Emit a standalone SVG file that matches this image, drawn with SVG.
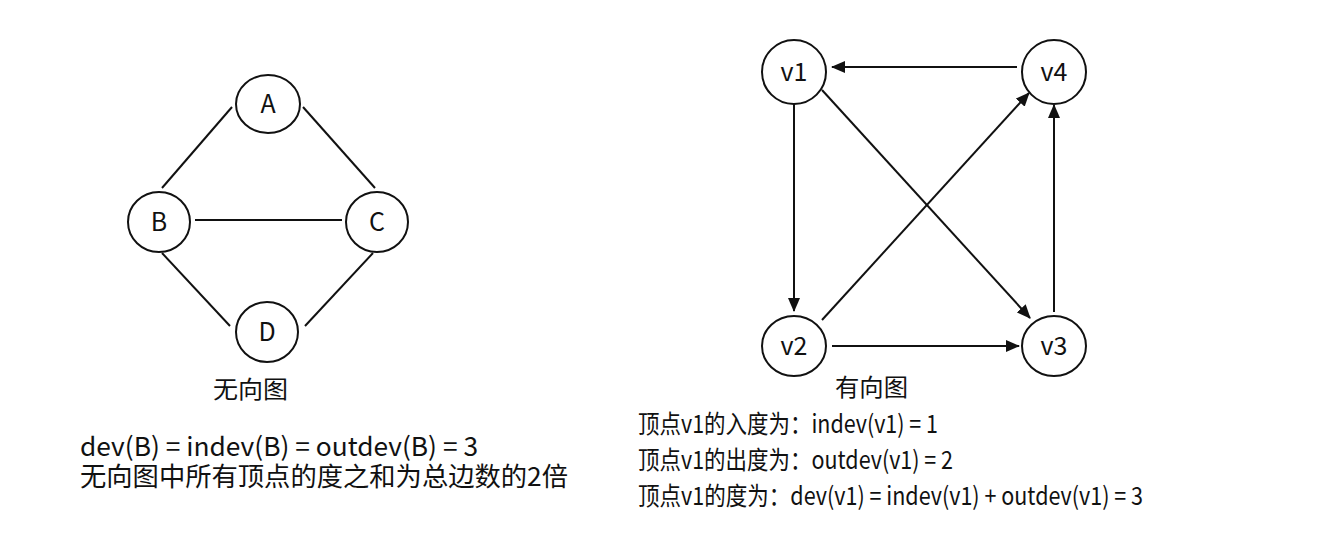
<svg xmlns="http://www.w3.org/2000/svg" width="1335" height="539" viewBox="0 0 1335 539">
<style>
.n{fill:#fff;stroke:#111;stroke-width:2}
.lbl{font-family:"Noto Sans CJK SC","Noto Sans",sans-serif;font-size:25px;fill:#111;text-anchor:middle}
.e{stroke:#111;stroke-width:2;fill:none}
.a{marker-end:url(#ah)}
.t{font-family:"Noto Sans CJK SC","Noto Sans",sans-serif;fill:#111}
</style>
<defs>
<marker id="ah" viewBox="0 0 14 12" refX="13" refY="6" markerWidth="14" markerHeight="12" markerUnits="userSpaceOnUse" orient="auto">
<path d="M0,0 L14,6 L0,12 Z" fill="#111"/>
</marker>
</defs>
<rect width="1335" height="539" fill="#fff"/>
<g id="connectors">
<line class="e" x1="232" y1="107" x2="162" y2="188"/>
<line class="e" x1="303" y1="107" x2="375" y2="188"/>
<line class="e" x1="195" y1="220" x2="342" y2="220"/>
<line class="e" x1="162" y1="253" x2="230" y2="326"/>
<line class="e" x1="373" y1="253" x2="305" y2="326"/>
<line class="e a" x1="1017" y1="67" x2="832" y2="67"/>
<line class="e a" x1="794" y1="100" x2="794" y2="311"/>
<line class="e a" x1="822" y1="90" x2="1030" y2="318"/>
<line class="e a" x1="822" y1="320" x2="1029" y2="93"/>
<line class="e a" x1="1054" y1="312" x2="1054" y2="105"/>
<line class="e a" x1="832" y1="346" x2="1019" y2="346"/>
</g>
<g id="node-A"><ellipse class="n" cx="268" cy="104" rx="32" ry="29"/><text class="lbl" x="268" y="113">A</text></g>
<g id="node-B"><ellipse class="n" cx="159" cy="222" rx="31" ry="30"/><text class="lbl" x="159" y="231">B</text></g>
<g id="node-C"><ellipse class="n" cx="377" cy="222" rx="31" ry="30"/><text class="lbl" x="377" y="231">C</text></g>
<g id="node-D"><ellipse class="n" cx="267" cy="332" rx="31" ry="30"/><text class="lbl" x="267" y="341">D</text></g>
<g id="node-v1"><ellipse class="n" cx="794" cy="72" rx="32" ry="32"/><text class="lbl" x="794" y="81">v1</text></g>
<g id="node-v4"><ellipse class="n" cx="1054" cy="72" rx="32" ry="32"/><text class="lbl" x="1054" y="81">v4</text></g>
<g id="node-v2"><ellipse class="n" cx="794" cy="346" rx="32" ry="30"/><text class="lbl" x="794" y="355">v2</text></g>
<g id="node-v3"><ellipse class="n" cx="1054" cy="346" rx="32" ry="30"/><text class="lbl" x="1054" y="355">v3</text></g>
<g id="captions">
<text class="t" x="213" y="398" font-size="24" textLength="75" lengthAdjust="spacingAndGlyphs">无向图</text>
<text class="t" x="80" y="456" font-size="26" textLength="398" lengthAdjust="spacingAndGlyphs">dev(B) = indev(B) = outdev(B) = 3</text>
<text class="t" x="80" y="486" font-size="26" textLength="488" lengthAdjust="spacingAndGlyphs">无向图中所有顶点的度之和为总边数的2倍</text>
<text class="t" x="835" y="396" font-size="24" textLength="73" lengthAdjust="spacingAndGlyphs">有向图</text>
<text class="t" x="638" y="433" font-size="25" textLength="300" lengthAdjust="spacingAndGlyphs">顶点v1的入度为：indev(v1) = 1</text>
<text class="t" x="638" y="469" font-size="25" textLength="315" lengthAdjust="spacingAndGlyphs">顶点v1的出度为：outdev(v1) = 2</text>
<text class="t" x="638" y="505" font-size="25" textLength="505" lengthAdjust="spacingAndGlyphs">顶点v1的度为：dev(v1) = indev(v1) + outdev(v1) = 3</text>
</g>
</svg>
